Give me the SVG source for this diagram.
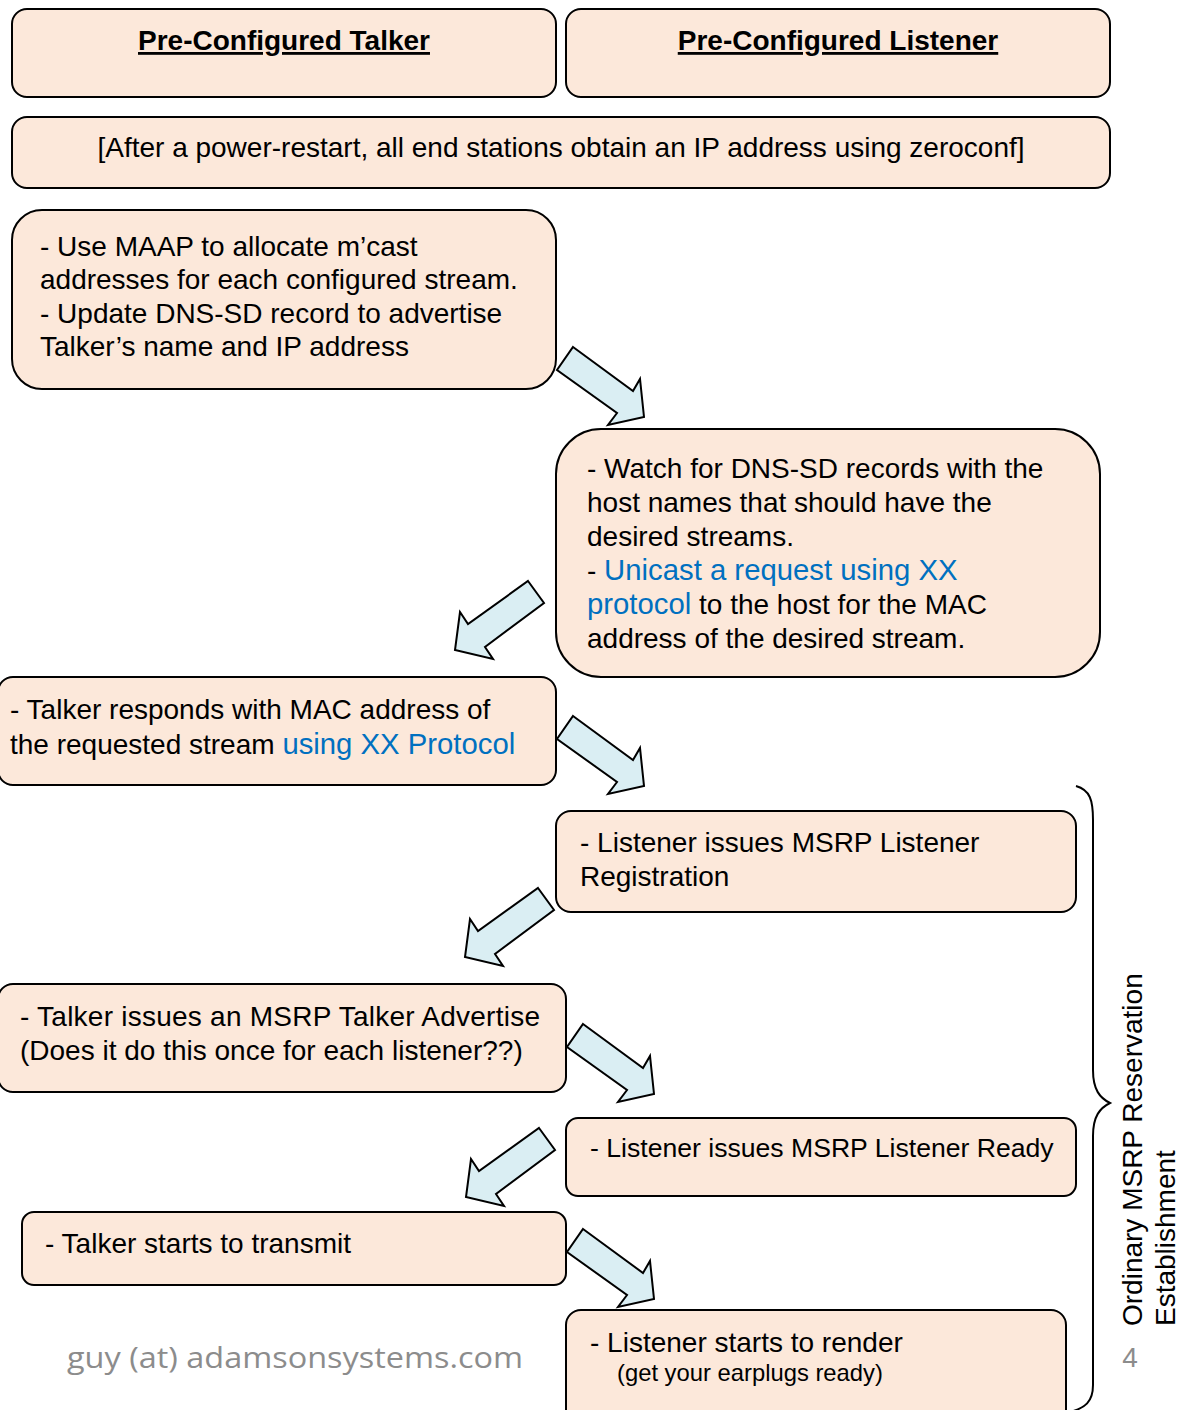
<svg xmlns="http://www.w3.org/2000/svg" width="1184" height="1410" viewBox="0 0 1184 1410">
<defs>
<style>
.box{fill:#FCE8DA;stroke:#000;stroke-width:2}
.arr{fill:#DAEEF3;stroke:#000;stroke-width:2;stroke-linejoin:miter}
.t{font-family:"Liberation Sans",Arial,sans-serif;font-size:28px;fill:#000}
.b{fill:#0070C0;font-size:29.3px}
.h{font-weight:bold;text-decoration:underline;text-anchor:middle}
.brace{fill:none;stroke:#000;stroke-width:2}
</style>
<polygon id="ar" class="arr" points="573,347 633,391 640,379 644,417 608,425 617,413 557,370"/>
<polygon id="al" class="arr" points="528,581 544,603 485,647 493,659 455,650 460,612 468,624"/>
</defs>
<rect width="1184" height="1410" fill="#fff"/>

<g id="connectors">
<use href="#ar"/>
<use href="#al"/>
<use href="#ar" transform="translate(0,369)"/>
<use href="#al" transform="translate(10,307)"/>
<use href="#ar" transform="translate(10,677)"/>
<use href="#al" transform="translate(11,547)"/>
<use href="#ar" transform="translate(10,882)"/>
</g>

<g id="talker-header">
<rect class="box" x="12" y="9" width="544" height="88" rx="15"/>
<text class="t h" x="284" y="50">Pre-Configured Talker</text>
</g>
<g id="listener-header">
<rect class="box" x="566" y="9" width="544" height="88" rx="15"/>
<text class="t h" x="838" y="50">Pre-Configured Listener</text>
</g>
<g id="zeroconf">
<rect class="box" x="12" y="117" width="1098" height="71" rx="15"/>
<text class="t" x="561" y="157" text-anchor="middle">[After a power-restart, all end stations obtain an IP address using zeroconf]</text>
</g>
<g id="maap">
<rect class="box" x="12" y="210" width="544" height="179" rx="30"/>
<text class="t" x="40" y="256">- Use MAAP to allocate m’cast</text>
<text class="t" x="40" y="289">addresses for each configured stream.</text>
<text class="t" x="40" y="323">- Update DNS-SD record to advertise</text>
<text class="t" x="40" y="356">Talker’s name and IP address</text>
</g>
<g id="watch">
<rect class="box" x="556" y="429" width="544" height="248" rx="45"/>
<text class="t" x="587" y="478">- Watch for DNS-SD records with the</text>
<text class="t" x="587" y="512">host names that should have the</text>
<text class="t" x="587" y="546">desired streams.</text>
<text class="t" x="587" y="580">- <tspan class="b">Unicast a request using XX</tspan></text>
<text class="t" x="587" y="614"><tspan class="b">protocol</tspan> to the host for the MAC</text>
<text class="t" x="587" y="648">address of the desired stream.</text>
</g>
<g id="responds">
<rect class="box" x="-2" y="677" width="558" height="108" rx="15"/>
<text class="t" x="10" y="719">- Talker responds with MAC address of</text>
<text class="t" x="10" y="754">the requested stream <tspan class="b">using XX Protocol</tspan></text>
</g>
<g id="registration">
<rect class="box" x="556" y="811" width="520" height="101" rx="15"/>
<text class="t" x="580" y="852">- Listener issues MSRP Listener</text>
<text class="t" x="580" y="886">Registration</text>
</g>
<g id="advertise">
<rect class="box" x="-2" y="984" width="568" height="108" rx="15"/>
<text class="t" x="20" y="1026" textLength="520" lengthAdjust="spacing">- Talker issues an MSRP Talker Advertise</text>
<text class="t" x="20" y="1060">(Does it do this once for each listener??)</text>
</g>
<g id="ready">
<rect class="box" x="566" y="1118" width="510" height="78" rx="12"/>
<text class="t" x="590" y="1157" style="font-size:26.6px">- Listener issues MSRP Listener Ready</text>
</g>
<g id="transmit">
<rect class="box" x="22" y="1212" width="544" height="73" rx="12"/>
<text class="t" x="45" y="1253">- Talker starts to transmit</text>
</g>
<g id="render">
<rect class="box" x="566" y="1310" width="500" height="130" rx="15"/>
<text class="t" x="590" y="1352">- Listener starts to render</text>
<text class="t" x="617" y="1381" style="font-size:23.8px">(get your earplugs ready)</text>
</g>

<g id="brace-group">
<path class="brace" d="M1076,786 C1090,790 1093,800 1093,820 L1093,1070 C1093,1090 1100,1098 1110,1103 C1100,1108 1093,1116 1093,1136 L1093,1385 C1093,1402 1085,1408 1070,1412"/>
<text class="t" transform="translate(1142,1326) rotate(-90)">Ordinary MSRP Reservation</text>
<text class="t" transform="translate(1175,1326) rotate(-90)">Establishment</text>
</g>

<text x="1130" y="1367" text-anchor="middle" font-family="Liberation Sans,Arial,sans-serif" font-size="28" fill="#8C8C8C">4</text>
<text x="67" y="1368" font-family="Open Sans,sans-serif" font-size="30" fill="#8C8C8C" textLength="456" lengthAdjust="spacingAndGlyphs">guy (at) adamsonsystems.com</text>
</svg>
